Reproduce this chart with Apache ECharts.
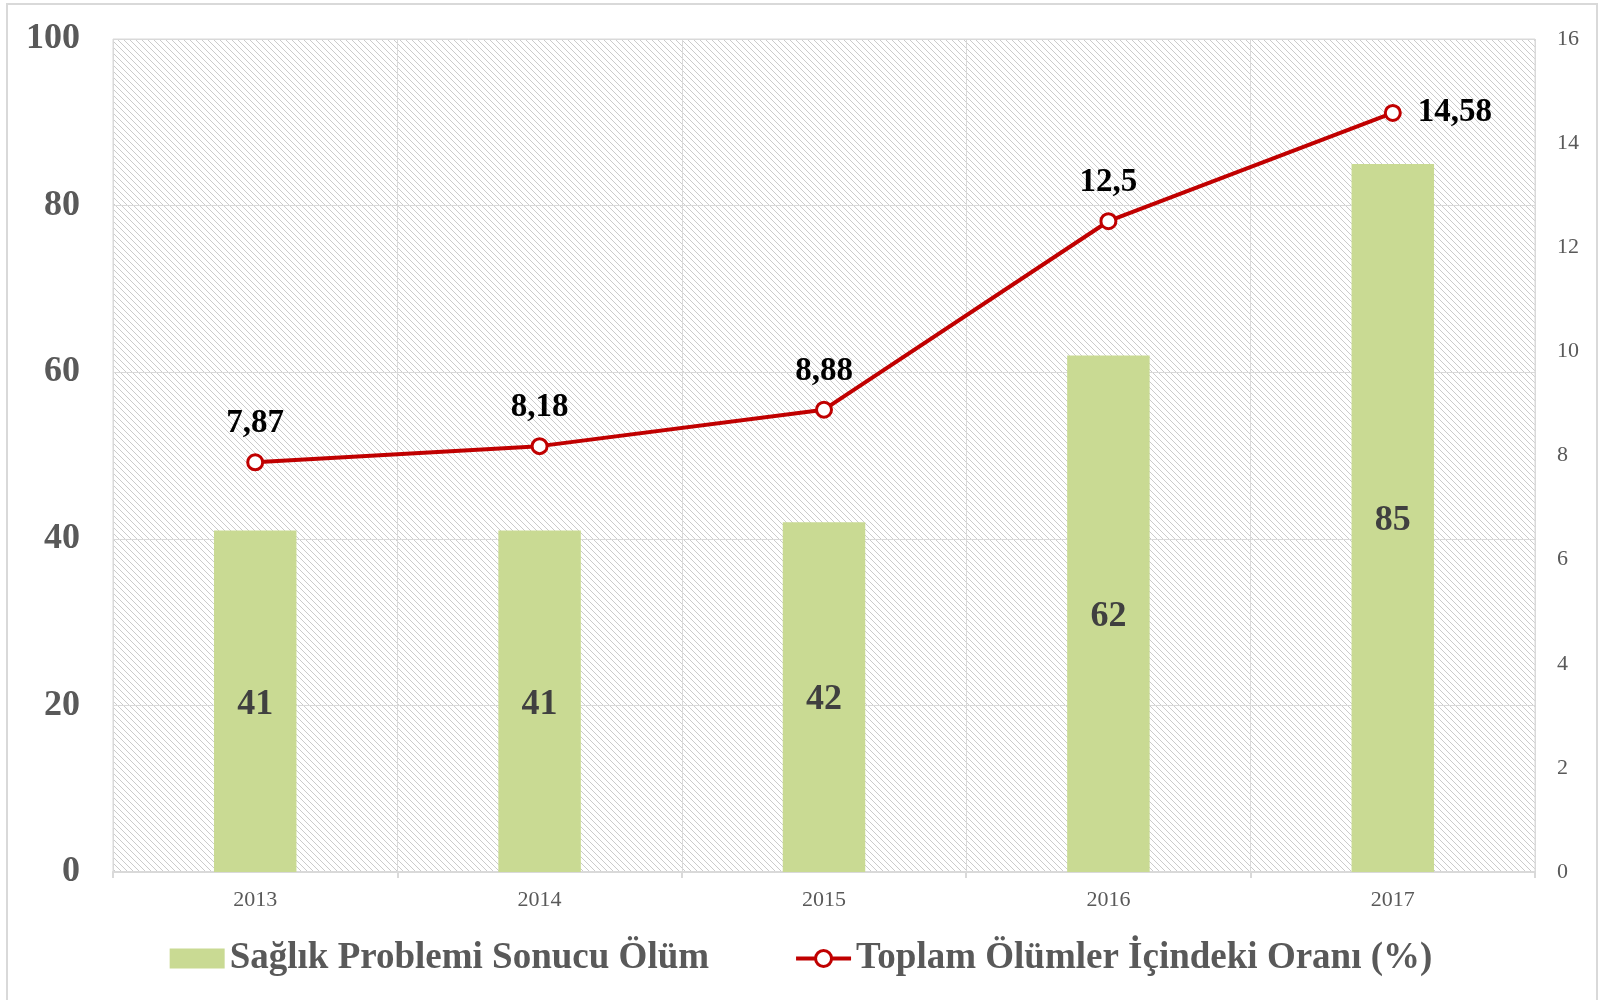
<!DOCTYPE html>
<html>
<head>
<meta charset="utf-8">
<script src="https://cdn.jsdelivr.net/npm/echarts@6/dist/echarts.min.js"></script>
<style>
html,body{margin:0;padding:0;background:#fff;}
#chart{width:1602px;height:1000px;}
</style>
</head>
<body>
<div id="chart"></div>
<script>
const categories = ['2013', '2014', '2015', '2016', '2017'];
const deaths = [41, 41, 42, 62, 85];
const ratio = [7.87, 8.18, 8.88, 12.5, 14.58];
const leftTicks = [0, 20, 40, 60, 80, 100];
const rightTicks = [0, 2, 4, 6, 8, 10, 12, 14, 16];
const barName = 'Sağlık Problemi Sonucu Ölüm';
const lineName = 'Toplam Ölümler İçindeki Oranı (%)';

const FONT = '"Liberation Serif", "Times New Roman", serif';

function makeHatch() {
  const c = document.createElement('canvas');
  c.width = 6; c.height = 6;
  const ctx = c.getContext('2d');
  ctx.fillStyle = '#ffffff';
  ctx.fillRect(0, 0, 6, 6);
  ctx.strokeStyle = '#cbcbcb';
  ctx.lineWidth = 1;
  ctx.beginPath();
  ctx.moveTo(-1, -1); ctx.lineTo(7, 7);
  ctx.moveTo(-7, -1); ctx.lineTo(1, 7);
  ctx.moveTo(5, -1); ctx.lineTo(13, 7);
  ctx.stroke();
  return c;
}

const chart = echarts.init(document.getElementById('chart'));
chart.setOption({
  backgroundColor: '#ffffff',
  animation: false,
  graphic: [{
    type: 'rect',
    shape: { x: 7, y: 4, width: 1590, height: 1000 },
    style: { fill: 'none', stroke: '#d9d9d9', lineWidth: 2 },
    z: -10
  }],
  grid: {
    left: 113, right: 67, top: 39, bottom: 128,
    show: true,
    backgroundColor: { image: makeHatch(), repeat: 'repeat' },
    borderColor: '#d9d9d9', borderWidth: 1
  },
  legend: {
    bottom: 18,
    left: 'center',
    itemGap: 85,
    itemWidth: 55,
    itemHeight: 20,
    textStyle: { fontFamily: FONT, fontSize: 37, fontWeight: 'bold', color: '#595959' },
    data: [
      { name: barName, icon: 'rect', itemStyle: { color: '#c9da93' } },
      { name: lineName, lineStyle: { color: '#c00000', width: 4 },
        itemStyle: { color: '#ffffff', borderColor: '#c00000', borderWidth: 3 } }
    ]
  },
  xAxis: {
    type: 'category',
    data: categories,
    boundaryGap: true,
    axisLine: { lineStyle: { color: '#d9d9d9', width: 2 } },
    axisTick: { show: true, length: 6, lineStyle: { color: '#d9d9d9', width: 2 } },
    splitLine: { show: true, lineStyle: { color: '#d9d9d9', width: 1 } },
    axisLabel: { fontFamily: FONT, fontSize: 22, color: '#595959', margin: 17 }
  },
  yAxis: [{
    type: 'value', min: 0, max: 100, interval: 20,
    axisLine: { show: false }, axisTick: { show: false },
    splitLine: { show: true, lineStyle: { color: '#d9d9d9', width: 1 } },
    axisLabel: { fontFamily: FONT, fontSize: 36, fontWeight: 'bold', color: '#595959', margin: 33,
      formatter: v => leftTicks.includes(v) ? String(v) : '' }
  }, {
    type: 'value', min: 0, max: 16, interval: 2,
    axisLine: { show: false }, axisTick: { show: false },
    splitLine: { show: false },
    axisLabel: { fontFamily: FONT, fontSize: 22, color: '#595959', margin: 22,
      formatter: v => rightTicks.includes(v) ? String(v) : '' }
  }],
  series: [{
    name: barName,
    type: 'bar',
    data: deaths,
    yAxisIndex: 0,
    barWidth: '29%',
    itemStyle: { color: '#c9da93' },
    label: { show: true, position: 'inside', offset: [0, 3], fontFamily: FONT, fontSize: 36, fontWeight: 'bold', color: '#404040' }
  }, {
    name: lineName,
    type: 'line',
    data: ratio.map((v, i) => i === ratio.length - 1 ? { value: v, label: { position: 'right', distance: 16 } } : v),
    yAxisIndex: 1,
    symbol: 'circle',
    symbolSize: 15,
    lineStyle: { color: '#c00000', width: 4 },
    itemStyle: { color: '#ffffff', borderColor: '#c00000', borderWidth: 3 },
    label: { show: true, position: 'top', distance: 13, fontFamily: FONT, fontSize: 33, fontWeight: 'bold', color: '#000000',
      formatter: p => String(p.value).replace('.', ',') },
    z: 5
  }]
});
</script>
</body>
</html>
